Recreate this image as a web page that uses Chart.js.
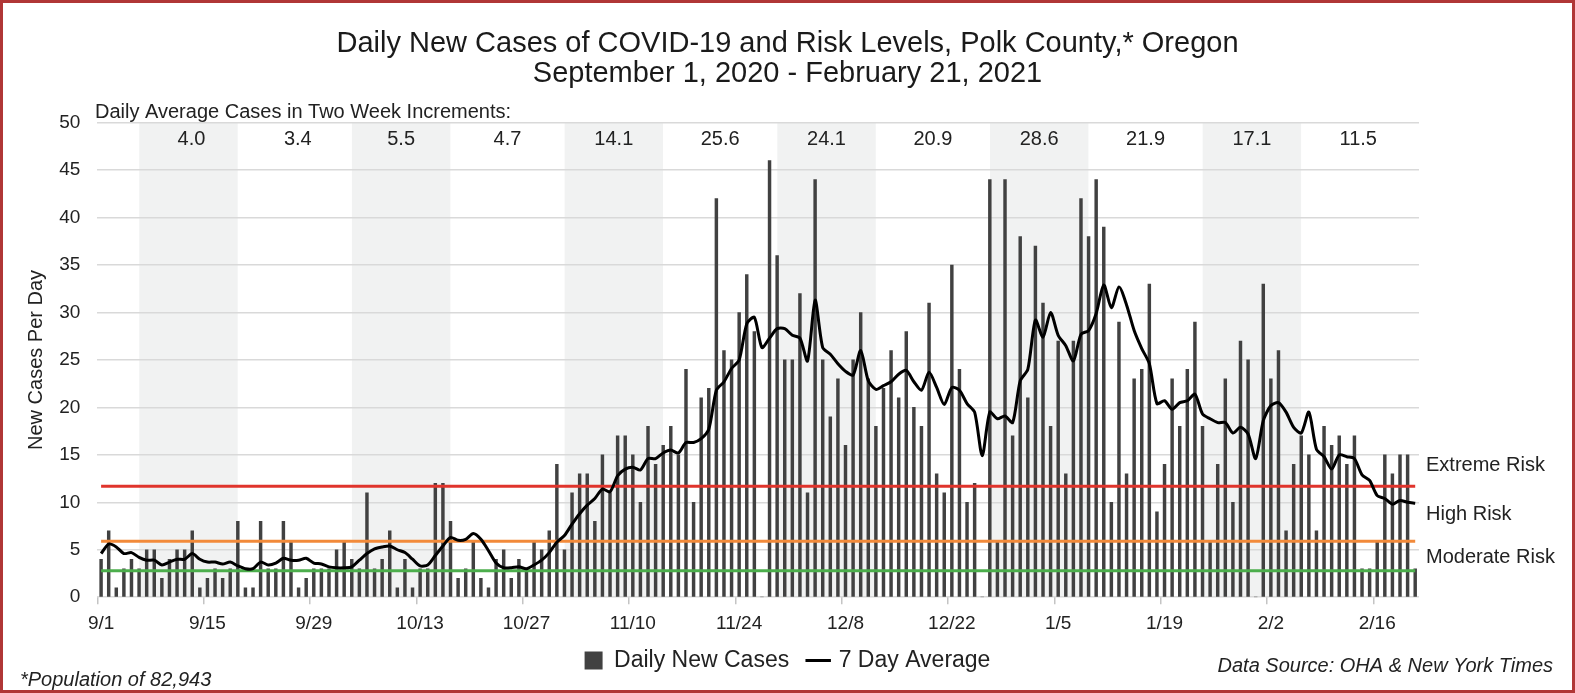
<!DOCTYPE html>
<html>
<head>
<meta charset="utf-8">
<script src="https://cdn.jsdelivr.net/npm/chart.js@4.4.1/dist/chart.umd.min.js"></script>
<style>
html,body{margin:0;padding:0;background:#fff}
#wrap{position:relative;width:1575px;height:693px}
#frame{position:absolute;left:0;top:0;width:1575px;height:693px;box-sizing:border-box;border:3px solid #b03636;pointer-events:none}
canvas{display:block}
</style>
</head>
<body>
<div id="wrap"><canvas id="c" width="1575" height="693"></canvas><div id="frame"></div></div>
<script>
// days per month, 9/1/2020 -> 2/21/2021
var months=[9,10,11,12,1,2];
var monthDays=[30,31,30,31,31,21];

var dailyCases=[
 4,7,1,3,4,3,5,5,2,4,
 5,5,7,1,2,3,2,3,8,1,
 1,8,3,3,8,6,1,2,3,3,
 3,5,6,4,3,11,3,4,7,1,
 4,1,3,3,12,12,8,2,3,6,
 2,1,4,5,2,4,3,6,5,7,
 14,5,11,13,13,8,15,11,17,17,
 15,10,18,14,16,18,15,24,10,21,
 22,42,26,25,30,34,28,0,46,36,
 25,25,32,11,44,25,19,23,16,25,
 30,23,18,22,26,21,28,20,18,31,
 13,11,35,24,10,12,0,44,6,44,
 17,38,21,37,31,18,27,13,27,42,
 38,44,39,10,29,13,23,24,33,9,
 14,23,18,24,29,18,6,14,23,10,
 27,25,0,33,23,26,7,14,17,15,
 7,18,16,17,14,17,3,3,6,15,
 13,15,15,3
];
var sevenDayAvg=[
 4.6,5.6,5.3,4.6,4.7,4.2,3.9,3.9,3.4,3.7,
 4.0,4.0,4.6,4.0,3.7,3.7,3.5,3.7,3.3,3.0,
 3.0,3.7,3.4,3.6,4.1,3.9,3.9,4.1,3.6,3.5,
 3.2,3.1,3.1,3.2,3.9,4.6,5.1,5.3,5.4,5.0,
 4.7,4.0,3.3,3.4,4.4,5.4,6.3,6.0,6.1,6.7,
 6.1,4.9,3.6,3.1,3.1,3.2,3.0,3.4,3.9,4.7,
 5.8,6.5,7.7,8.8,9.7,10.4,11.4,11.1,12.8,13.5,
 13.7,13.4,14.6,14.6,15.2,15.5,15.2,16.3,16.3,16.7,
 17.7,21.8,22.7,24.1,25.0,28.8,29.5,26.3,27.3,28.3,
 28.3,27.6,27.3,24.9,31.3,26.3,25.6,24.6,23.8,23.4,
 26.0,22.8,21.9,22.3,22.7,23.5,23.9,22.7,21.8,23.7,
 22.1,20.3,22.1,21.8,20.4,19.5,14.9,19.5,18.8,19.1,
 18.4,22.8,24.0,29.2,27.4,30.0,27.6,26.5,24.9,27.7,
 28.1,29.9,32.9,30.5,32.7,30.8,28.1,26.2,24.6,20.4,
 20.7,19.8,20.5,20.7,21.4,19.3,18.8,18.4,18.4,17.3,
 17.9,17.2,14.6,18.6,20.2,20.5,19.5,17.9,17.3,19.5,
 15.6,14.8,13.5,15.0,14.8,14.6,12.9,12.3,10.7,10.4,
 9.8,10.2,10.0,9.9
];
var tickLabels=['9/1','9/15','9/29','10/13','10/27','11/10','11/24','12/8','12/22','1/5','1/19','2/2','2/16'];
var bandAverages=['4.0','3.4','5.5','4.7','14.1','25.6','24.1','20.9','28.6','21.9','17.1','11.5'];
var riskNames=['Extreme Risk','High Risk','Moderate Risk'];
var riskValues=[11.7,5.9,2.8];

var days=[];
for(var m=0;m<months.length;m++){
    for(var d=1;d<=monthDays[m];d++)days.push(months[m]+'/'+d);
}

var FONT='"Liberation Sans", Arial, Helvetica, sans-serif';

var decor={
    id:'decor',
    beforeDraw:function(ch){
        var ctx=ch.ctx,a=ch.chartArea,x=ch.scales.x;
        ctx.save();
        ctx.fillStyle='#f1f2f2';
        for(var k=0;k<bandAverages.length;k+=2){
            var c=11.5+k*14;
            var x0=x.getPixelForValue(c-6.48),x1=x.getPixelForValue(c+6.48);
            ctx.fillRect(x0,a.top,x1-x0,a.bottom-a.top);
        }
        ctx.restore();
    },
    afterDraw:function(ch){
        var ctx=ch.ctx,a=ch.chartArea,x=ch.scales.x,y=ch.scales.y;
        ctx.save();
        ctx.fillStyle='#222';
        ctx.textBaseline='middle';
        ctx.font='20px '+FONT;
        ctx.textAlign='left';
        ctx.fillText('Daily Average Cases in Two Week Increments:',95,112);
        ctx.textAlign='center';
        for(var k=0;k<bandAverages.length;k++){
            ctx.fillText(bandAverages[k],x.getPixelForValue(11.5+k*14)+(k<2?3:0),a.top+17);
        }
        // risk labels on the right
        ctx.textAlign='left';
        var yr=y.getPixelForValue(riskValues[0]),yo=y.getPixelForValue(riskValues[1]);
        ctx.fillText(riskNames[0],a.right+7,yr-21);
        ctx.fillText(riskNames[1],a.right+7,yr+28);
        ctx.fillText(riskNames[2],a.right+7,yo+16);
        // footnotes
        ctx.font='italic 20px '+FONT;
        ctx.fillText('*Population of 82,943',20,680);
        ctx.textAlign='right';
        ctx.fillText('Data Source: OHA & New York Times',1553,666);
        ctx.restore();
    }
};

function flat(v){return dailyCases.map(function(){return v;});}

new Chart(document.getElementById('c'),{
    type:'bar',
    data:{
        labels:days,
        datasets:[
            {type:'bar',label:'Daily New Cases',data:dailyCases,backgroundColor:'#414141',borderWidth:0,barThickness:2.8,order:3,pointStyle:'rect'},
            {type:'line',label:'7 Day Average',data:sevenDayAvg,borderColor:'#000',backgroundColor:'#000',borderWidth:3,pointRadius:0,tension:0.25,fill:false,order:1,pointStyle:'line'},
            {type:'line',label:riskNames[0],data:flat(riskValues[0]),borderColor:'#e0342c',borderWidth:3,pointRadius:0,fill:false,order:2},
            {type:'line',label:riskNames[1],data:flat(riskValues[1]),borderColor:'#f28a3a',borderWidth:3,pointRadius:0,fill:false,order:2},
            {type:'line',label:riskNames[2],data:flat(riskValues[2]),borderColor:'#4cae4c',borderWidth:3,pointRadius:0,fill:false,order:2}
        ]
    },
    options:{
        responsive:false,animation:false,devicePixelRatio:1,
        layout:{padding:{left:0,right:0,top:0,bottom:11}},
        plugins:{
            title:{display:true,text:['Daily New Cases of COVID-19 and Risk Levels, Polk County,* Oregon','September 1, 2020 - February 21, 2021'],
                color:'#1a1a1a',font:{family:FONT,size:29,weight:'normal',lineHeight:'30px'},padding:{top:29,bottom:33.7}},
            legend:{position:'bottom',
                labels:{font:{family:FONT,size:23},color:'#222',usePointStyle:true,boxWidth:18,boxHeight:18,padding:20,
                    filter:function(it){return it.datasetIndex<2;},
                    sort:function(a,b){return a.datasetIndex-b.datasetIndex;}}},
            tooltip:{enabled:false}
        },
        scales:{
            x:{offset:true,
                grid:{offset:true,drawOnChartArea:false,drawTicks:true,tickLength:7,lineWidth:1.5,
                    color:function(c){return (c.index!==undefined&&c.index<days.length&&tickLabels.indexOf(days[c.index])>=0)?'#c4c4c4':'rgba(0,0,0,0)';}},
                border:{display:false},
                ticks:{autoSkip:false,maxRotation:0,padding:8,color:'#222',font:{family:FONT,size:19},
                    // tick labels only every two weeks
                    callback:function(v,i){var l=days[i];return tickLabels.indexOf(l)>=0?l:'';}},
                afterFit:function(s){s.height=31.8;}
            },
            y:{min:0,max:50,
                ticks:{stepSize:5,padding:17,color:'#222',font:{family:FONT,size:19}},
                grid:{color:'#d9d9d9',lineWidth:1.5,drawTicks:false},
                border:{display:false},
                title:{display:true,text:'New Cases Per Day',color:'#222',font:{family:FONT,size:20},padding:{top:24,bottom:0}},
                afterFit:function(s){s.width=97.3;}
            },
            yR:{position:'right',min:0,max:50,display:true,
                grid:{display:false},border:{display:false},ticks:{display:false},
                afterFit:function(s){s.width=156;}
            }
        }
    },
    plugins:[decor]
});
</script>
</body>
</html>
